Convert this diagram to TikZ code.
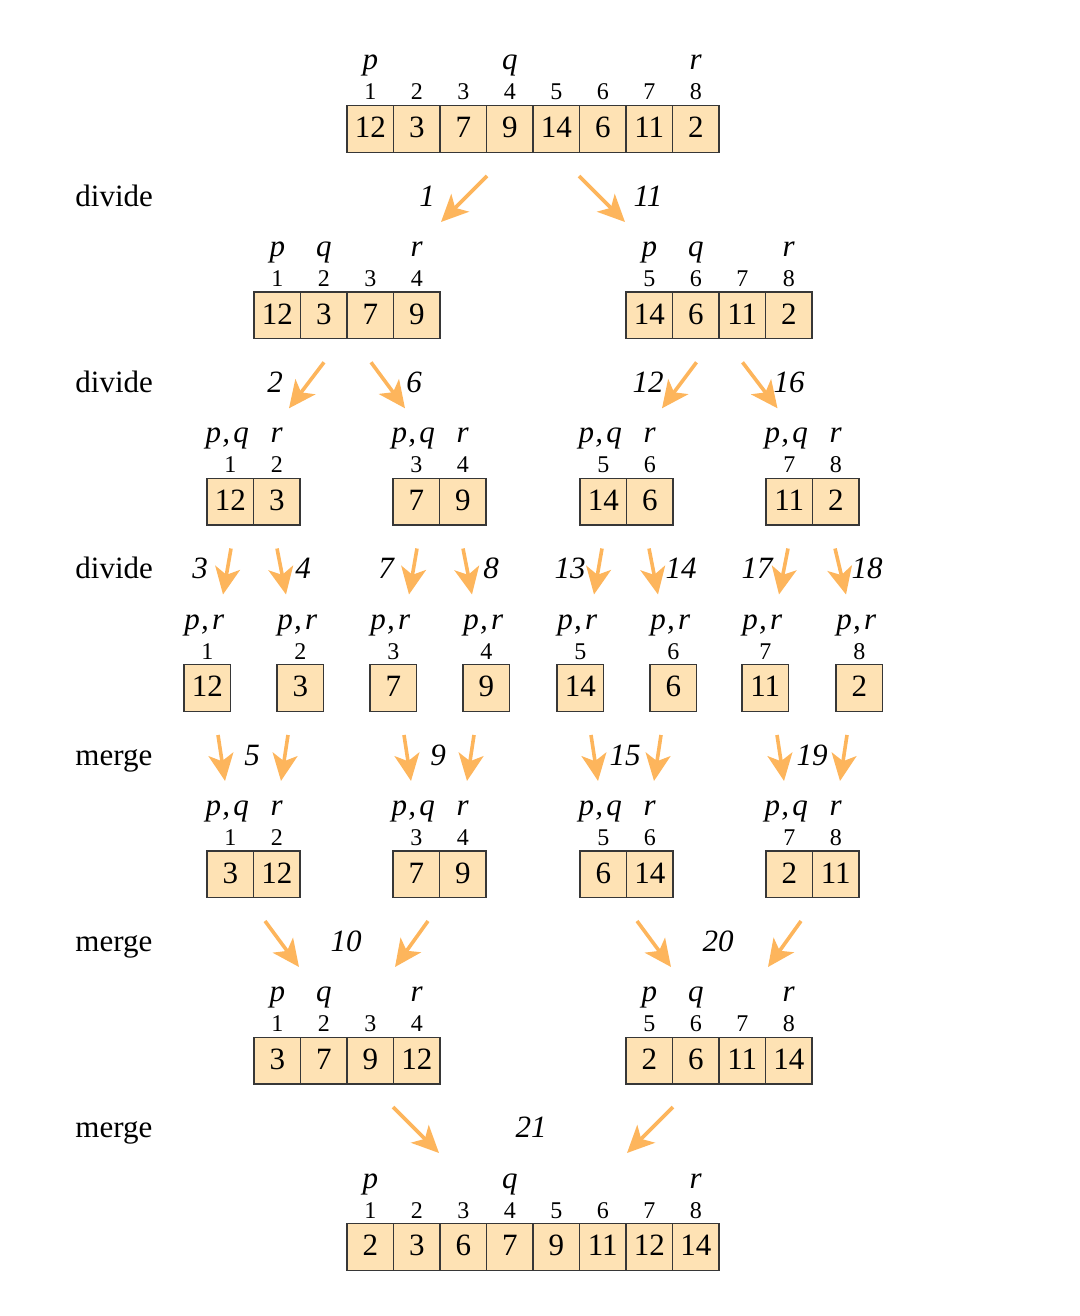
\documentclass[tikz,border=0pt]{standalone}
\usepackage{fontspec}
\setmainfont{Liberation Serif}
\usetikzlibrary{arrows.meta}
\definecolor{cellfill}{RGB}{254,226,180}
\definecolor{arrcol}{RGB}{253,181,92}
\definecolor{celldraw}{RGB}{55,55,55}
\newcommand\mkarray[5]{%
  \foreach \v [count=\i from 0] in {#5} {%
    \pgfmathsetmacro\cx{#2+46.5*(\i+0.5)}%
    \pgfmathtruncatemacro\ix{#4+\i}%
    \node[cell] (#1-\ix) at (\cx,#3) {\v};%
    \node[idx] (#1-n\ix) at (\cx,#3-29) {\ix};%
  }}
\newcommand\plab[3]{\node[ptr] (#1) at ([yshift=29.5pt]#2.center) {#3};}
\newcommand\pclab[3]{\node[ptr] (#1) at ([yshift=29.5pt,xshift=-1.5pt]#2.center) {#3};}
\newcommand\pc[2]{#1\kern0.6pt,\kern1.6pt #2}
\newcommand\mkarrow[3]{\coordinate (#1s) at (#2); \coordinate (#1t) at (#3); \draw[arr] (#1s) -- (#1t);}
\begin{document}
\begin{tikzpicture}[x=0.5pt,y=-0.5pt,
  cell/.style={draw=celldraw, line width=0.6pt, fill=cellfill, minimum width=23.25pt, minimum height=23.25pt, inner sep=0pt, font=\fontsize{15.5}{18}\selectfont, text height=10.5pt, text depth=1.8pt},
  idx/.style={anchor=base, inner sep=0pt, font=\fontsize{12}{14}\selectfont},
  ptr/.style={anchor=base, inner sep=0pt, font=\fontsize{15.5}{18}\selectfont\itshape},
  stepnum/.style={anchor=base, inner sep=0pt, font=\fontsize{15.5}{18}\selectfont\itshape},
  rowlab/.style={anchor=base west, inner sep=0pt, font=\fontsize{15.5}{18}\selectfont},
  arr/.style={draw=arrcol, line width=1.8pt, -{Stealth[length=13.5pt,width=12.5pt,inset=3.5pt]}}
]
\useasboundingbox (0,0) rectangle (1080,1316);

% arrays
\mkarray{T}{347}{129}{1}{12,3,7,9,14,6,11,2}
\mkarray{L}{254}{315.3}{1}{12,3,7,9}
\mkarray{R}{626}{315.3}{5}{14,6,11,2}
\mkarray{LL}{207}{501.7}{1}{12,3}
\mkarray{LR}{393}{501.7}{3}{7,9}
\mkarray{RL}{580}{501.7}{5}{14,6}
\mkarray{RR}{766}{501.7}{7}{11,2}
\mkarray{SA}{184}{688}{1}{12}
\mkarray{SB}{277}{688}{2}{3}
\mkarray{SC}{370}{688}{3}{7}
\mkarray{SD}{463}{688}{4}{9}
\mkarray{SE}{557}{688}{5}{14}
\mkarray{SF}{650}{688}{6}{6}
\mkarray{SG}{742}{688}{7}{11}
\mkarray{SH}{836}{688}{8}{2}
\mkarray{ML}{207}{874.3}{1}{3,12}
\mkarray{MLR}{393}{874.3}{3}{7,9}
\mkarray{MRL}{580}{874.3}{5}{6,14}
\mkarray{MRR}{766}{874.3}{7}{2,11}
\mkarray{NL}{254}{1060.7}{1}{3,7,9,12}
\mkarray{NR}{626}{1060.7}{5}{2,6,11,14}
\mkarray{F}{347}{1247}{1}{2,3,6,7,9,11,12,14}

% pointer labels
\plab{Tp}{T-1}{p} \plab{Tq}{T-4}{q} \plab{Tr}{T-8}{r}
\plab{Lp}{L-1}{p} \plab{Lq}{L-2}{q} \plab{Lr}{L-4}{r}
\plab{Rp}{R-5}{p} \plab{Rq}{R-6}{q} \plab{Rr}{R-8}{r}
\pclab{LLp}{LL-1}{\pc pq} \plab{LLr}{LL-2}{r}
\pclab{LRp}{LR-3}{\pc pq} \plab{LRr}{LR-4}{r}
\pclab{RLp}{RL-5}{\pc pq} \plab{RLr}{RL-6}{r}
\pclab{RRp}{RR-7}{\pc pq} \plab{RRr}{RR-8}{r}
\pclab{SAp}{SA-1}{\pc pr} \pclab{SBp}{SB-2}{\pc pr} \pclab{SCp}{SC-3}{\pc pr} \pclab{SDp}{SD-4}{\pc pr}
\pclab{SEp}{SE-5}{\pc pr} \pclab{SFp}{SF-6}{\pc pr} \pclab{SGp}{SG-7}{\pc pr} \pclab{SHp}{SH-8}{\pc pr}
\pclab{MLp}{ML-1}{\pc pq} \plab{MLr}{ML-2}{r}
\pclab{MLRp}{MLR-3}{\pc pq} \plab{MLRr}{MLR-4}{r}
\pclab{MRLp}{MRL-5}{\pc pq} \plab{MRLr}{MRL-6}{r}
\pclab{MRRp}{MRR-7}{\pc pq} \plab{MRRr}{MRR-8}{r}
\plab{NLp}{NL-1}{p} \plab{NLq}{NL-2}{q} \plab{NLr}{NL-4}{r}
\plab{NRp}{NR-5}{p} \plab{NRq}{NR-6}{q} \plab{NRr}{NR-8}{r}
\plab{Fp}{F-1}{p} \plab{Fq}{F-4}{q} \plab{Fr}{F-8}{r}

% row labels
\node[rowlab] (d1) at (75,206) {divide};
\node[rowlab] (d2) at (75,392.3) {divide};
\node[rowlab] (d3) at (75,578.7) {divide};
\node[rowlab] (m1) at (75,765) {merge};
\node[rowlab] (m2) at (75,951.3) {merge};
\node[rowlab] (m3) at (75,1137.7) {merge};

% step numbers
\node[stepnum] (s1) at (427,206) {1};
\node[stepnum] (s11) at (648,206) {11};
\node[stepnum] (s2) at (275,392.3) {2};
\node[stepnum] (s6) at (414,392.3) {6};
\node[stepnum] (s12) at (648,392.3) {12};
\node[stepnum] (s16) at (789,392.3) {16};
\node[stepnum] (s3) at (200,578.7) {3};
\node[stepnum] (s4) at (303,578.7) {4};
\node[stepnum] (s7) at (386,578.7) {7};
\node[stepnum] (s8) at (491,578.7) {8};
\node[stepnum] (s13) at (570,578.7) {13};
\node[stepnum] (s14) at (681,578.7) {14};
\node[stepnum] (s17) at (757,578.7) {17};
\node[stepnum] (s18) at (867,578.7) {18};
\node[stepnum] (s5) at (252,765) {5};
\node[stepnum] (s9) at (438,765) {9};
\node[stepnum] (s15) at (625,765) {15};
\node[stepnum] (s19) at (812,765) {19};
\node[stepnum] (s10) at (346,951.3) {10};
\node[stepnum] (s20) at (718,951.3) {20};
\node[stepnum] (s21) at (531,1137.7) {21};

% arrows
\mkarrow{a1}{487,176}{441,222}
\mkarrow{a11}{579,176}{625,222}
\mkarrow{a2}{324,362.3}{289,408.3}
\mkarrow{a6}{371,362.3}{405,408.3}
\mkarrow{a12}{696.5,362.3}{662,408.3}
\mkarrow{a16}{742.5,362.3}{777.5,408.3}
\mkarrow{a3}{231,548.5}{223,594.5}
\mkarrow{a4}{277,548.5}{286,594.5}
\mkarrow{a7}{417,548.5}{409,594.5}
\mkarrow{a8}{463,548.5}{472,594.5}
\mkarrow{a13}{602,548.5}{594,594.5}
\mkarrow{a14}{649,548.5}{658,594.5}
\mkarrow{a17}{788,548.5}{779,594.5}
\mkarrow{a18}{835,548.5}{846,594.5}
\mkarrow{a5l}{218,735}{225,781}
\mkarrow{a5r}{288,735}{281,781}
\mkarrow{a9l}{404,735}{411,781}
\mkarrow{a9r}{474,735}{467,781}
\mkarrow{a15l}{591,735}{598,781}
\mkarrow{a15r}{661,735}{654,781}
\mkarrow{a19l}{777,735}{784,781}
\mkarrow{a19r}{847,735}{840,781}
\mkarrow{a10l}{265,921}{299,967}
\mkarrow{a10r}{428,921}{395,967}
\mkarrow{a20l}{637,921}{671,967}
\mkarrow{a20r}{801,921}{768,967}
\mkarrow{a21l}{393,1107}{439,1153}
\mkarrow{a21r}{673,1107}{627,1153}
\end{tikzpicture}
\end{document}
